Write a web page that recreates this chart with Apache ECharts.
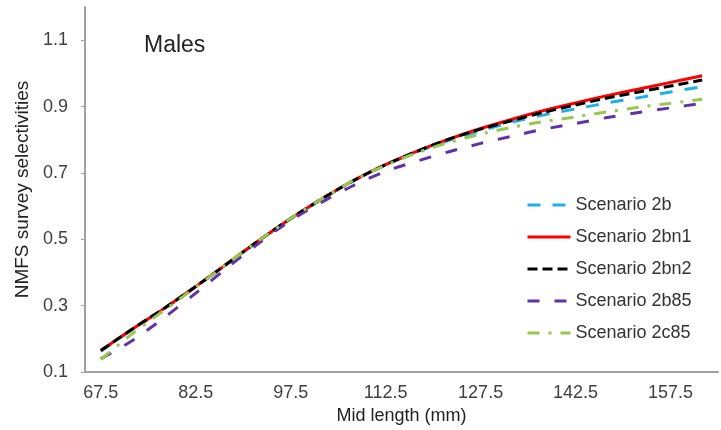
<!DOCTYPE html>
<html>
<head>
<meta charset="utf-8">
<script src="https://cdn.jsdelivr.net/npm/echarts@6/dist/echarts.min.js"></script>
<style>
  html, body { margin: 0; padding: 0; background: #fff; }
  #chart { width: 721px; height: 430px; }
</style>
</head>
<body>
<div id="chart"></div>
<script>
// mid length categories (mm)
var midLength = ['67.5','72.5','77.5','82.5','87.5','92.5','97.5','102.5','107.5','112.5',
                 '117.5','122.5','127.5','132.5','137.5','142.5','147.5','152.5','157.5','162.5'];

// selectivities
var sc2b   = [0.163,0.229,0.291,0.357,0.426,0.496,0.562,0.622,0.677,0.724,0.764,0.798,0.827,0.853,0.875,0.893,0.911,0.927,0.944,0.960];
var sc2bn1 = [0.165,0.230,0.292,0.358,0.427,0.497,0.563,0.623,0.678,0.725,0.766,0.802,0.834,0.862,0.888,0.911,0.933,0.953,0.973,0.993];
var sc2bn2 = [0.165,0.230,0.292,0.358,0.427,0.497,0.563,0.623,0.678,0.725,0.766,0.802,0.832,0.858,0.883,0.905,0.926,0.944,0.962,0.980];
var sc2b85 = [0.140,0.195,0.264,0.338,0.415,0.489,0.557,0.613,0.663,0.705,0.736,0.764,0.789,0.811,0.832,0.849,0.867,0.882,0.896,0.910];
var sc2c85 = [0.138,0.216,0.286,0.356,0.427,0.497,0.563,0.623,0.678,0.723,0.761,0.792,0.817,0.838,0.855,0.869,0.884,0.898,0.910,0.922];

var font = '"Liberation Sans", Arial, sans-serif';

function line(name, data, color, type) {
    return {
        name: name,
        type: 'line',
        data: data,
        symbol: 'none',
        smooth: 0.3,
        lineStyle: { color: color, width: 3, type: type },
        itemStyle: { color: color }
    };
}

var myChart = echarts.init(document.getElementById('chart'));
var option = {
    backgroundColor: '#fff',
    animation: false,
    title: {
        text: 'Males',
        left: 139,
        top: 29,
        textStyle: { fontFamily: font, fontSize: 23, fontWeight: 'normal', color: '#222' }
    },
    grid: { left: 85, right: 3, top: 7, bottom: 55 },
    legend: {
        orient: 'vertical',
        left: 521,
        top: 191,
        itemWidth: 43,
        itemHeight: 14,
        itemGap: 14,
        itemStyle: { opacity: 0 },
        lineStyle: { width: 3 },
        textStyle: { fontFamily: font, fontSize: 18, color: '#333' },
        data: ['Scenario 2b','Scenario 2bn1','Scenario 2bn2','Scenario 2b85','Scenario 2c85']
    },
    xAxis: {
        type: 'category',
        data: midLength,
        boundaryGap: true,
        name: 'Mid length (mm)',
        nameLocation: 'middle',
        nameGap: 31,
        nameTextStyle: { fontFamily: font, fontSize: 18, color: '#222' },
        axisLine: { lineStyle: { color: '#a0a0a0', width: 2 } },
        axisTick: { interval: 0, alignWithLabel: false, length: 5, lineStyle: { color: '#a0a0a0' } },
        axisLabel: { interval: 2, margin: 12, fontFamily: font, fontSize: 18, color: '#404040' },
        splitLine: { show: false }
    },
    yAxis: {
        type: 'value',
        min: 0.1,
        max: 1.2,
        interval: 0.2,
        name: 'NMFS survey selectivities',
        nameLocation: 'middle',
        nameGap: 51,
        nameTextStyle: { fontFamily: font, fontSize: 19, color: '#222' },
        axisLine: { show: true, lineStyle: { color: '#a0a0a0', width: 2 } },
        axisTick: { show: true, length: 4, lineStyle: { color: '#a0a0a0' } },
        axisLabel: {
            showMaxLabel: false,
            margin: 17,
            fontFamily: font,
            fontSize: 18,
            color: '#404040',
            formatter: function (v) { return v.toFixed(1); }
        },
        splitLine: { show: false }
    },
    series: [
        line('Scenario 2b', sc2b, '#1fb0ea', [13, 12]),
        line('Scenario 2bn1', sc2bn1, '#ff0000', 'solid'),
        line('Scenario 2bn2', sc2bn2, '#000000', [10, 5]),
        line('Scenario 2b85', sc2b85, '#6032a8', [12, 15]),
        line('Scenario 2c85', sc2c85, '#96c84e', [12, 9, 3, 9])
    ]
};
myChart.setOption(option);
</script>
</body>
</html>
